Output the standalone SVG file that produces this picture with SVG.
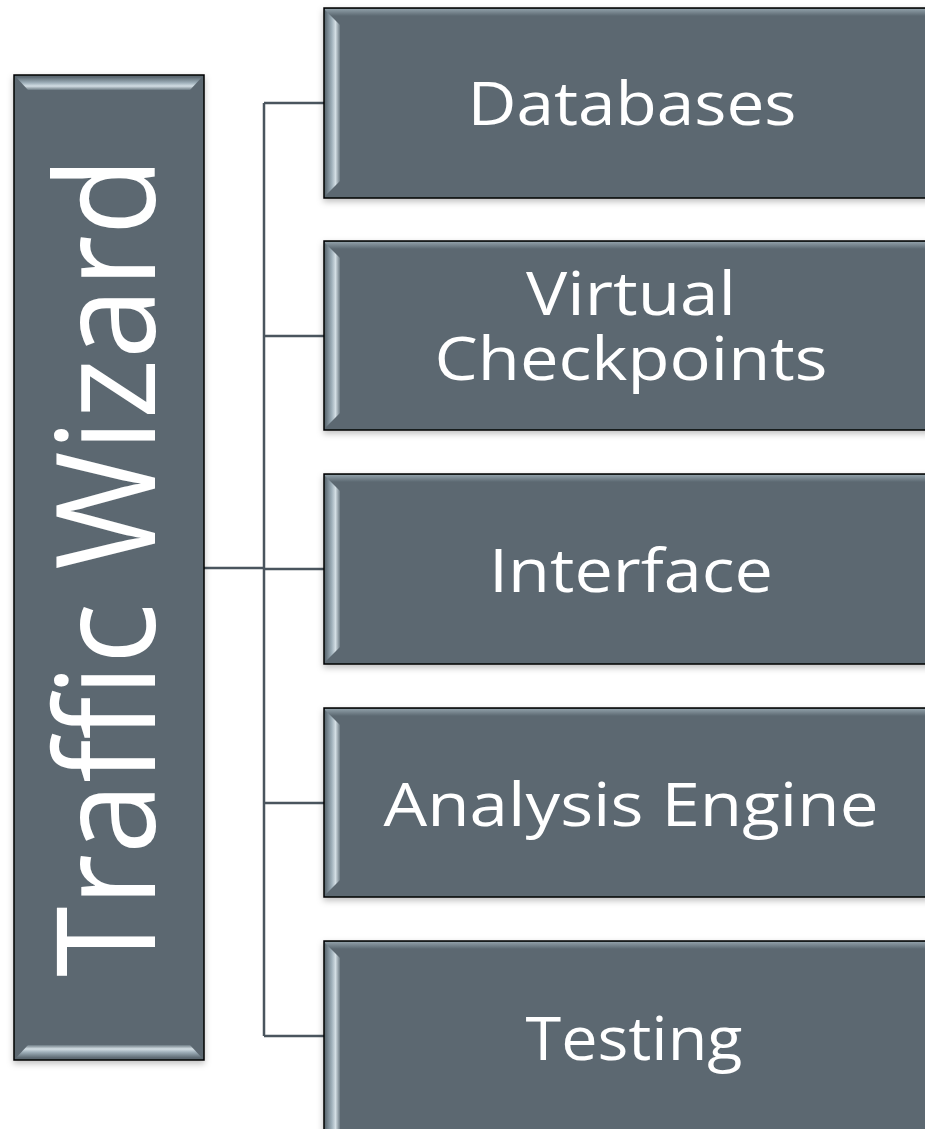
<svg xmlns="http://www.w3.org/2000/svg" width="925" height="1129" viewBox="0 0 925 1129">
<defs>
<linearGradient id="gv" x1="0" y1="0" x2="0" y2="1">
<stop offset="0" stop-color="#5b6871"/><stop offset="0.45" stop-color="#9fb0ba"/><stop offset="0.7" stop-color="#d3dee4"/><stop offset="1" stop-color="#6d7b84"/>
</linearGradient>
<linearGradient id="gvb" x1="0" y1="1" x2="0" y2="0">
<stop offset="0" stop-color="#5b6871"/><stop offset="0.45" stop-color="#9fb0ba"/><stop offset="0.7" stop-color="#d3dee4"/><stop offset="1" stop-color="#6d7b84"/>
</linearGradient>
<linearGradient id="gh" x1="0" y1="0" x2="1" y2="0">
<stop offset="0" stop-color="#5b6871"/><stop offset="0.45" stop-color="#9fb0ba"/><stop offset="0.7" stop-color="#d3dee4"/><stop offset="1" stop-color="#6d7b84"/>
</linearGradient>
<linearGradient id="gtop" x1="0" y1="0" x2="0" y2="1">
<stop offset="0" stop-color="#8f9ea7"/><stop offset="1" stop-color="#5b6871"/>
</linearGradient>
<filter id="sh" x="-5%" y="-5%" width="110%" height="115%">
<feDropShadow dx="0" dy="3" stdDeviation="3" flood-color="#000" flood-opacity="0.25"/>
</filter>
</defs>
<style>
.box{fill:#5b6871;stroke:#000;stroke-width:1.5}
.lbl{font-family:"Open Sans","Noto Sans",sans-serif;fill:#fff;text-anchor:middle;font-size:60px}
.big{font-size:137px}
.con{fill:none;stroke:#4a555e;stroke-width:2.5}
</style>
<g id="connectors">
<path class="con" d="M204,568 H264 M264,103 V1036 M264,103 H325 M264,336 H325 M264,569 H325 M264,803 H325 M264,1036 H325"/>
</g>
<g id="root">
<rect class="box" x="14" y="75" width="190" height="985" filter="url(#sh)"/>
<polygon points="16,77 202,77 190,90 28,90" fill="url(#gv)"/>
<polygon points="16,1058 202,1058 190,1045 28,1045" fill="url(#gvb)"/>
<text class="lbl big" transform="translate(155,567) rotate(-90)" textLength="820" lengthAdjust="spacingAndGlyphs">Traffic Wizard</text>
</g>
<g id="databases">
<rect class="box" x="324" y="8" width="640" height="190" filter="url(#sh)"/>
<rect x="325" y="9" width="600" height="7" fill="url(#gtop)"/>
<polygon points="325,10 340,25 340,181 325,196" fill="url(#gh)"/>
<text class="lbl" x="632" y="125" textLength="329" lengthAdjust="spacingAndGlyphs">Databases</text>
</g>
<g id="virtual-checkpoints">
<rect class="box" x="324" y="241" width="640" height="189" filter="url(#sh)"/>
<rect x="325" y="242" width="600" height="7" fill="url(#gtop)"/>
<polygon points="325,243 340,258 340,413 325,428" fill="url(#gh)"/>
<text class="lbl" x="631" y="315" textLength="210" lengthAdjust="spacingAndGlyphs">Virtual</text>
<text class="lbl" x="631" y="380" textLength="393" lengthAdjust="spacingAndGlyphs">Checkpoints</text>
</g>
<g id="interface">
<rect class="box" x="324" y="474" width="640" height="190" filter="url(#sh)"/>
<rect x="325" y="475" width="600" height="7" fill="url(#gtop)"/>
<polygon points="325,476 340,491 340,647 325,662" fill="url(#gh)"/>
<text class="lbl" x="631" y="592" textLength="284" lengthAdjust="spacingAndGlyphs">Interface</text>
</g>
<g id="analysis-engine">
<rect class="box" x="324" y="708" width="640" height="189" filter="url(#sh)"/>
<rect x="325" y="709" width="600" height="7" fill="url(#gtop)"/>
<polygon points="325,710 340,725 340,880 325,895" fill="url(#gh)"/>
<text class="lbl" x="631" y="826" textLength="495" lengthAdjust="spacingAndGlyphs">Analysis Engine</text>
</g>
<g id="testing">
<rect class="box" x="324" y="941" width="640" height="190" filter="url(#sh)"/>
<rect x="325" y="942" width="600" height="7" fill="url(#gtop)"/>
<polygon points="325,943 340,958 340,1131 325,1131" fill="url(#gh)"/>
<text class="lbl" x="634" y="1060" textLength="217" lengthAdjust="spacingAndGlyphs">Testing</text>
</g>
</svg>
